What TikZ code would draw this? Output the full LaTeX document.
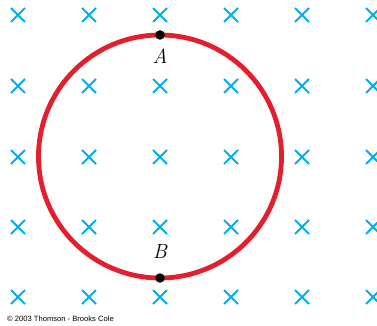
\documentclass[tikz,border=0pt]{standalone}
\usepackage{fontspec}
\newfontfamily\credfont{Liberation Sans}
\definecolor{fieldcyan}{RGB}{0,174,239}
\definecolor{loopred}{RGB}{228,30,45}
\begin{document}
\begin{tikzpicture}[x=1pt,y=-1pt,
  fieldx/.style={draw=fieldcyan,line width=1.9pt},
  loop/.style={draw=loopred,line width=4.8pt},
  pdot/.style={circle,fill=black,inner sep=0pt,minimum size=9.5pt},
  plabel/.style={font=\fontsize{20.5}{22}\selectfont\itshape,inner sep=0pt},
  credit/.style={font=\credfont\fontsize{7.6}{8}\selectfont,anchor=west,inner sep=0pt}]
\useasboundingbox (0,0) rectangle (377,326);
\foreach \cx in {18,89,160,231,302,373}
  \foreach \cy in {15,86,157,227,297}
    \draw[fieldx] (\cx-7,\cy-7) -- (\cx+7,\cy+7) (\cx-7,\cy+7) -- (\cx+7,\cy-7);
\draw[loop] (160,156.5) circle[radius=121.5];
\node[pdot] (A) at (160,35) {};
\node[pdot] (B) at (160,278) {};
\node[plabel] (la) at (160,56) {A};
\node[plabel] (lb) at (160,251) {B};
\node[credit] (cr) at (7,319) {© 2003 Thomson - Brooks Cole};
\end{tikzpicture}
\end{document}
